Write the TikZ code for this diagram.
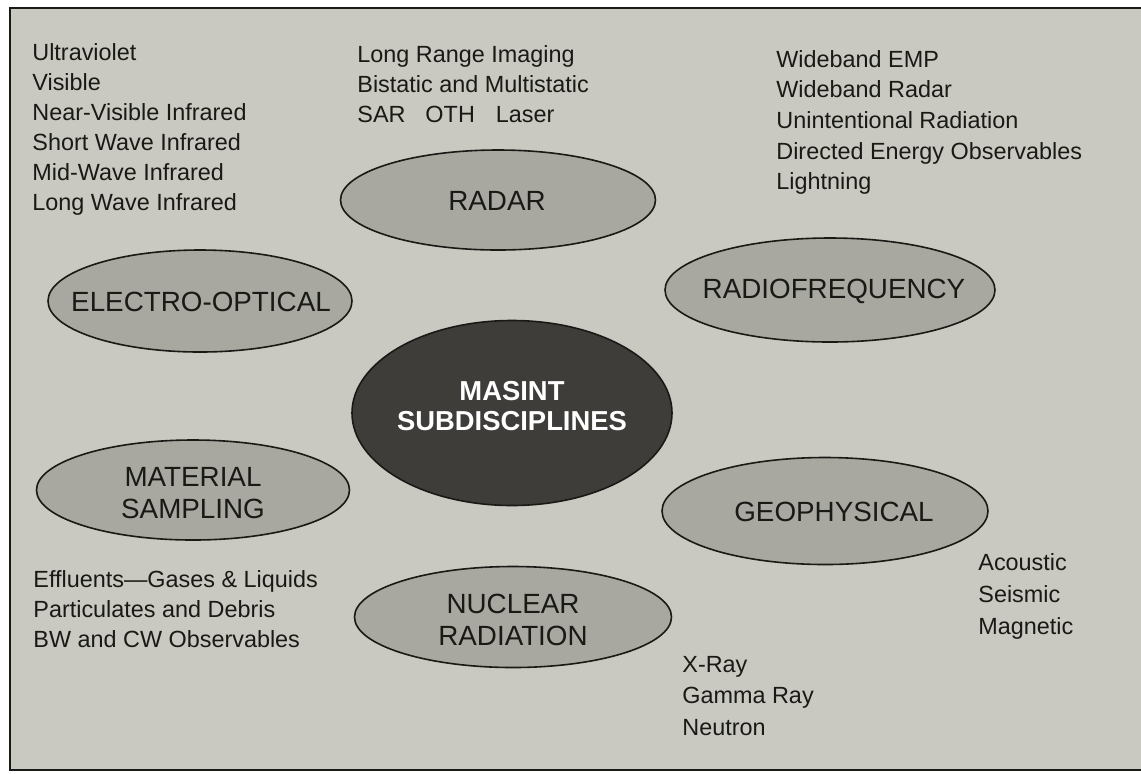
\documentclass[tikz,border=0pt]{standalone}
\usepackage{fontspec}
\setmainfont{Liberation Sans}
\usetikzlibrary{shapes.geometric}
\definecolor{paper}{RGB}{201,201,193}
\definecolor{ovalfill}{RGB}{168,168,161}
\definecolor{hubfill}{RGB}{62,61,57}
\definecolor{ink}{RGB}{25,25,22}
\begin{document}
\begin{tikzpicture}[x=0.5pt,y=-0.5pt,
  oval/.style={ellipse, draw=ink, line width=0.8pt, fill=ovalfill, inner sep=0pt},
  hub/.style={oval, fill=hubfill},
  ovaltext/.style={inner sep=0pt, align=center, text=ink, font=\fontsize{13.9}{16}\selectfont},
  hubtext/.style={inner sep=0pt, align=center, text=white, font=\bfseries\fontsize{13.7}{15}\selectfont},
  list/.style={anchor=north west, inner sep=0pt, align=left, text=ink,
    font=\fontsize{11.7}{15}\selectfont},
  frame/.style={fill=paper, draw=ink, line width=1pt}]
\useasboundingbox (0,0) rectangle (1141,773);
\clip (0,0) rectangle (1141,773);
\fill[white] (0,0) rectangle (1141,773);
\draw[frame] (10,8) rectangle (1160,770);

% ovals
\node[oval, minimum width=157.5pt, minimum height=50pt] (radar) at (498,200) {};
\node[oval, minimum width=152pt, minimum height=51pt] (eo) at (200,301) {};
\node[oval, minimum width=165pt, minimum height=52pt] (rf) at (830,290) {};
\node[hub, minimum width=160pt, minimum height=92.5pt] (hub) at (512,413) {};
\node[oval, minimum width=156.5pt, minimum height=50pt] (mat) at (193,490) {};
\node[oval, minimum width=163pt, minimum height=53.5pt] (geo) at (825,511) {};
\node[oval, minimum width=158.5pt, minimum height=50.5pt] (nuc) at (513,617) {};

% oval labels
\node[ovaltext] (radart) at (497,201) {RADAR};
\node[ovaltext] (eot) at (201,302) {ELECTRO-OPTICAL};
\node[ovaltext] (rft) at (834,291) {RADIOFREQUENCY};
\node[hubtext] (hubt) at (512,406) {MASINT\\SUBDISCIPLINES};
\node[ovaltext] (matt) at (193,493) {MATERIAL\\SAMPLING};
\node[ovaltext] (geot) at (834,512) {GEOPHYSICAL};
\node[ovaltext] (nuct) at (513,620) {NUCLEAR\\RADIATION};

% lists
\node[list] (eolist) at (32,43) {Ultraviolet\\Visible\\Near-Visible Infrared\\Short Wave Infrared\\Mid-Wave Infrared\\Long Wave Infrared};
\node[list] (radarlist) at (357,45) {Long Range Imaging\\Bistatic and Multistatic\\SAR\hspace{10pt}OTH\hspace{10.5pt}Laser};
\node[list, font=\fontsize{11.7}{15.3}\selectfont] (rflist) at (776,50) {Wideband EMP\\Wideband Radar\\Unintentional Radiation\\Directed Energy Observables\\Lightning};
\node[list] (matlist) at (33,570) {Effluents---Gases \& Liquids\\Particulates and Debris\\BW and CW Observables};
\node[list, font=\fontsize{11.7}{16}\selectfont] (geolist) at (978,553) {Acoustic\\Seismic\\Magnetic};
\node[list, font=\fontsize{11.7}{15.7}\selectfont] (nuclist) at (682,656) {X-Ray\\Gamma Ray\\Neutron};
\end{tikzpicture}
\end{document}
